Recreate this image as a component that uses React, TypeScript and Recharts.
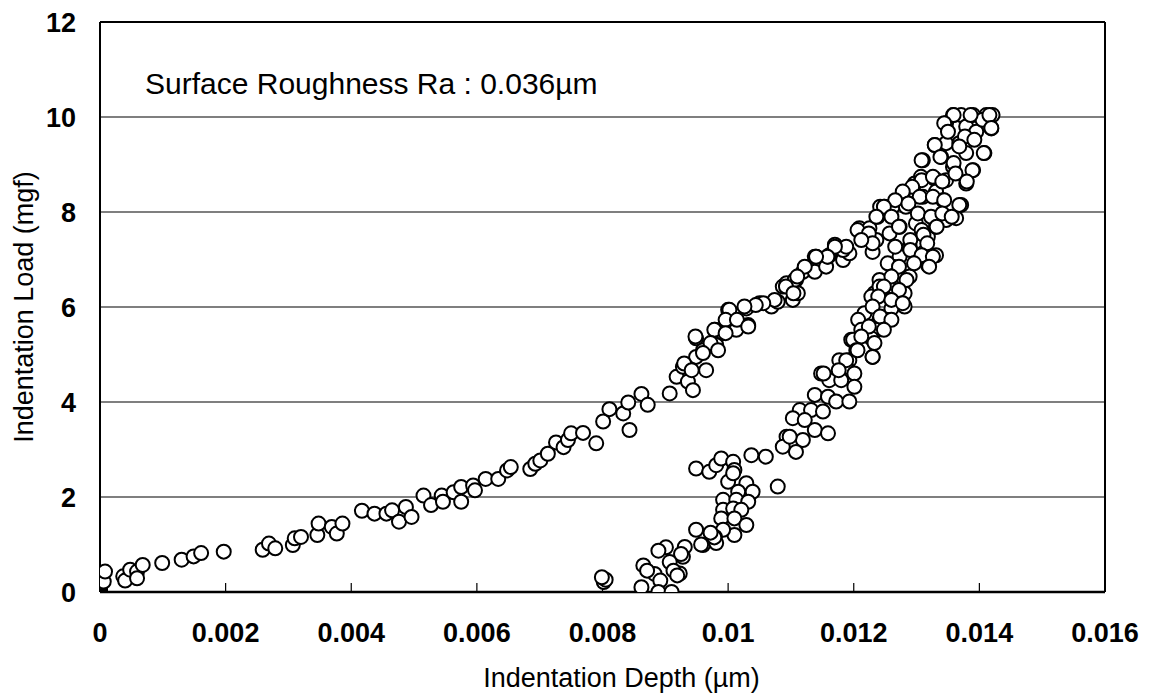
// Indentation load vs depth scatter (loading + unloading branches)

import { ScatterChart, Scatter, XAxis, YAxis, CartesianGrid, ReferenceLine } from 'recharts'

// [depth µm, load mgf]
const loadingCurve: [number, number][] = [
  [0, 0], [0, 0.01], [0, 0.03], [0, 0.05], [0, 0.07], [0, 0.09], [0, 0.11], [0, 0.13], [0, 0.15],
  [0.00001, 0.17], [0.00002, 0.2], [0.00006, 0.22], [0.00008, 0.43],
  [0.00037, 0.33], [0.0004, 0.24], [0.00048, 0.47], [0.00059, 0.43], [0.00059, 0.29], [0.00068, 0.57],
  [0.00099, 0.61], [0.0013, 0.68], [0.00149, 0.75], [0.00161, 0.82], [0.00197, 0.85], [0.00259, 0.89],
  [0.00269, 1.02], [0.00279, 0.92], [0.00307, 0.99], [0.0031, 1.13], [0.0032, 1.16], [0.00346, 1.2],
  [0.00348, 1.44], [0.00369, 1.37], [0.00377, 1.23], [0.00386, 1.44], [0.00417, 1.71], [0.00437, 1.65],
  [0.00456, 1.65], [0.00465, 1.72], [0.00476, 1.48], [0.00487, 1.79], [0.00496, 1.58], [0.00515, 2.03],
  [0.00527, 1.83], [0.00544, 2.03], [0.00546, 1.9], [0.00563, 2.1], [0.00575, 2.21], [0.00575, 1.9],
  [0.00594, 2.24], [0.00597, 2.14], [0.00614, 2.38], [0.00634, 2.38], [0.00648, 2.56], [0.00654, 2.63],
  [0.00685, 2.59], [0.00693, 2.7], [0.00701, 2.77], [0.00713, 2.91], [0.00726, 3.15], [0.00738, 3.05],
  [0.00745, 3.2], [0.0075, 3.34], [0.00769, 3.35], [0.0079, 3.13], [0.00801, 3.59], [0.00811, 3.85],
  [0.00833, 3.76], [0.00841, 3.99], [0.00843, 3.41], [0.00862, 4.17], [0.00872, 3.94], [0.00907, 4.18],
  [0.00918, 4.53], [0.00928, 4.74], [0.00936, 4.43], [0.00944, 4.25], [0.00949, 5.34], [0.00949, 4.95],
  [0.0096, 5.09], [0.00965, 4.67], [0.00979, 5.52], [0.00981, 5.2], [0.00992, 5.45], [0.01, 5.94],
  [0.01002, 5.69], [0.01013, 5.52], [0.01029, 5.97], [0.01032, 5.62], [0.0105, 6.08], [0.01069, 6.01],
  [0.01079, 6.11], [0.01087, 6.43], [0.01103, 6.15], [0.01108, 6.57], [0.01111, 6.29], [0.01119, 6.74],
  [0.01138, 6.74], [0.0114, 7.06], [0.01156, 6.85], [0.01161, 7.09], [0.01183, 6.99], [0.01193, 7.13],
  [0.01093, 6.5], [0.01106, 6.57], [0.01138, 7.06], [0.01159, 7.06], [0.0117, 7.31], [0.01183, 7.2],
  [0.01209, 7.66], [0.01225, 7.66], [0.0123, 7.16], [0.01236, 7.41], [0.01238, 7.9], [0.01249, 8.11],
  [0.01262, 8.11], [0.01283, 8.11], [0.01278, 8.39], [0.01297, 8.6], [0.01307, 8.74], [0.0131, 9.09],
  [0.01329, 9.41], [0.01347, 9.87], [0.01358, 10.04], [0.01371, 10.04],
  [0.01206, 7.62], [0.01224, 7.55], [0.01242, 8.11], [0.0123, 7.34], [0.01212, 7.41], [0.01188, 7.27],
  [0.0117, 7.27], [0.01158, 7.06], [0.0114, 7.06], [0.01122, 6.85], [0.0111, 6.64], [0.01092, 6.43],
  [0.01104, 6.29], [0.01074, 6.15], [0.01056, 6.08], [0.01044, 6.04], [0.01026, 6.01], [0.01002, 5.94],
  [0.00996, 5.73], [0.01014, 5.73], [0.01032, 5.59], [0.00978, 5.52], [0.00996, 5.45], [0.00948, 5.38],
  [0.00972, 5.24], [0.0093, 4.81], [0.00942, 4.67], [0.0096, 5.03], [0.00984, 5.09],
]

const unloadingCurve: [number, number][] = [
  [0.0139, 10.04], [0.01411, 10.04], [0.01421, 10.04], [0.01419, 9.76], [0.01379, 9.8], [0.01395, 9.69],
  [0.01405, 9.94], [0.01347, 9.45], [0.01368, 9.45], [0.01379, 9.24], [0.01408, 9.24], [0.01339, 9.16],
  [0.01358, 8.95], [0.0139, 8.88], [0.01329, 8.7], [0.01347, 8.67], [0.01379, 8.6], [0.0131, 8.32],
  [0.01331, 8.43], [0.01342, 8.25], [0.01371, 8.15], [0.01257, 7.55], [0.01273, 7.69], [0.01299, 7.76],
  [0.01318, 7.48], [0.01331, 7.69], [0.01347, 7.83], [0.01363, 7.87], [0.0131, 7.13], [0.01331, 7.09],
  [0.01318, 6.88], [0.01289, 7.27], [0.01273, 7.06], [0.01262, 6.85], [0.01289, 6.64], [0.01241, 6.57],
  [0.01233, 6.29], [0.01257, 6.43], [0.01278, 6.29], [0.01228, 6.22], [0.01241, 6.43], [0.01262, 6.43],
  [0.01281, 6.29], [0.01281, 6.01], [0.0126, 5.97], [0.01217, 5.87], [0.01241, 5.73], [0.01252, 5.73],
  [0.01207, 5.73], [0.01212, 5.52], [0.01236, 5.52], [0.01196, 5.31], [0.01199, 5.31], [0.01228, 5.34],
  [0.01204, 5.09], [0.0123, 4.95], [0.01177, 4.88], [0.01193, 4.88], [0.01188, 4.74], [0.01201, 4.6],
  [0.01148, 4.6], [0.01161, 4.46], [0.0118, 4.46], [0.01201, 4.32], [0.01138, 4.15], [0.01159, 4.11],
  [0.01172, 4.01], [0.01193, 4.01], [0.01114, 3.83], [0.01132, 3.83], [0.01151, 3.8], [0.01103, 3.66],
  [0.01122, 3.62], [0.01138, 3.41], [0.01159, 3.34], [0.01093, 3.27], [0.01119, 3.2], [0.01108, 2.95],
  [0.01087, 3.06], [0.01098, 3.27], [0.01037, 2.88], [0.0106, 2.85], [0.01079, 2.22],
  [0.01359, 10.04], [0.01386, 10.04], [0.01416, 10.04], [0.01419, 9.77], [0.01344, 9.87], [0.0135, 9.69],
  [0.01377, 9.59], [0.01392, 9.52], [0.01329, 9.41], [0.01368, 9.38], [0.01407, 9.24], [0.01308, 9.09],
  [0.01338, 9.16], [0.01359, 9.03], [0.01389, 8.88], [0.01362, 8.81], [0.01308, 8.67], [0.01326, 8.74],
  [0.01341, 8.64], [0.0138, 8.64], [0.01293, 8.53], [0.01305, 8.32], [0.01326, 8.32], [0.01344, 8.25],
  [0.01368, 8.15], [0.01278, 8.43], [0.01266, 8.25], [0.01248, 8.11], [0.01287, 8.18], [0.01302, 7.97],
  [0.01323, 7.9], [0.01341, 7.97], [0.01356, 7.9], [0.01236, 7.9], [0.0126, 7.9], [0.01272, 7.69],
  [0.01308, 7.62], [0.01332, 7.69], [0.0129, 7.41], [0.01311, 7.52], [0.01317, 7.34], [0.01266, 7.27],
  [0.0129, 7.2], [0.01308, 7.09], [0.01326, 7.06], [0.0132, 6.85], [0.01254, 6.92], [0.01272, 6.85],
  [0.01296, 6.92], [0.0126, 6.64], [0.01284, 6.57], [0.01248, 6.43], [0.01272, 6.36], [0.01239, 6.22],
  [0.0126, 6.15], [0.01278, 6.08], [0.0123, 6.01], [0.01242, 5.8], [0.0126, 5.73], [0.01224, 5.59],
  [0.01248, 5.52], [0.01212, 5.38], [0.01233, 5.24], [0.0123, 4.95], [0.01206, 5.09], [0.01188, 4.88],
  [0.01176, 4.67], [0.01152, 4.6],
  [0.00949, 2.6], [0.0097, 2.53], [0.00981, 2.67], [0.00989, 2.81], [0.01008, 2.74], [0.0101, 2.57],
  [0.01, 2.32], [0.01008, 2.5], [0.01029, 2.29], [0.01039, 2.11], [0.01016, 2.11], [0.00992, 1.94],
  [0.01013, 1.94], [0.01032, 1.9], [0.00992, 1.73], [0.01008, 1.76], [0.01021, 1.73], [0.00989, 1.55],
  [0.0101, 1.55], [0.01029, 1.41], [0.0101, 1.2], [0.00992, 1.31], [0.00949, 1.31], [0.00979, 1.16],
  [0.0096, 0.99], [0.00981, 1.03], [0.00957, 1.0], [0.00978, 1.15], [0.00972, 1.25],
  [0.00931, 0.95], [0.00928, 0.74], [0.00923, 0.39], [0.00925, 0.8], [0.00901, 0.94], [0.00889, 0.87],
  [0.00907, 0.63], [0.00913, 0.45], [0.00919, 0.35], [0.00883, 0.38], [0.00892, 0.24], [0.00889, 0],
  [0.0091, 0], [0.00862, 0.1], [0.00865, 0.56], [0.00871, 0.45], [0.00802, 0.21], [0.00805, 0.26],
  [0.00799, 0.31],
]

const depthTicks = [0, 0.002, 0.004, 0.006, 0.008, 0.01, 0.012, 0.014, 0.016]
const loadTicks = [0, 2, 4, 6, 8, 10, 12]
const annotation = 'Surface Roughness Ra : 0.036µm'

const toPoints = (pts: [number, number][]) => pts.map(([depth, load]) => ({ depth, load }))

const FONT = '"Liberation Sans", Arial, sans-serif'
const tickStyle = { fill: '#000', fontSize: 27, fontWeight: 'bold', fontFamily: FONT }

const OpenCircle = (props: any) => (
  <circle cx={props.cx} cy={props.cy} r={7} fill="#fff" stroke="#000" strokeWidth={2} />
)

export default function App() {
  return (
    <div style={{ position: 'relative', width: 1152, height: 695, background: '#fff' }}>
      <style>{'body{margin:0}'}</style>
      <ScatterChart width={1152} height={695} margin={{ top: 22, right: 47, bottom: 3, left: 19 }}>
        <CartesianGrid vertical={false} stroke="#000" strokeWidth={1.2} />
        <XAxis
          type="number"
          dataKey="depth"
          domain={[0, 0.016]}
          ticks={depthTicks}
          allowDataOverflow
          interval={0}
          height={100}
          tickLine={false}
          tickSize={0}
          tickMargin={31}
          axisLine={{ stroke: '#000', strokeWidth: 2.5 }}
          tick={tickStyle}
          tickFormatter={(v: number) => (v === 0 ? '0' : String(Number(v.toFixed(3))))}
          label={{
            value: 'Indentation Depth (µm)',
            position: 'insideBottom',
            offset: 5,
            dx: 19,
            style: { fill: '#000', fontSize: 27, fontFamily: FONT },
          }}
        />
        <YAxis
          type="number"
          dataKey="load"
          domain={[0, 12]}
          ticks={loadTicks}
          allowDataOverflow
          interval={0}
          width={81}
          tickLine={false}
          tickSize={0}
          tickMargin={24}
          axisLine={{ stroke: '#000', strokeWidth: 2 }}
          tick={tickStyle}
          label={{
            value: 'Indentation Load (mgf)',
            angle: -90,
            position: 'insideLeft',
            offset: 4,
            style: { fill: '#000', fontSize: 27, fontFamily: FONT, textAnchor: 'middle' },
          }}
        />
        {/* frame: top and right borders */}
        <ReferenceLine y={12} stroke="#000" strokeWidth={2} />
        <ReferenceLine x={0.016} stroke="#000" strokeWidth={2} />
        {/* inward tick marks on the depth axis */}
        {depthTicks.slice(1, -1).map(t => (
          <ReferenceLine key={t} segment={[{ x: t, y: 0 }, { x: t, y: 0.19 }]} stroke="#000" strokeWidth={1.2} />
        ))}
        <Scatter data={toPoints(loadingCurve)} shape={OpenCircle} isAnimationActive={false} />
        <Scatter data={toPoints(unloadingCurve)} shape={OpenCircle} isAnimationActive={false} />
      </ScatterChart>
      <div
        style={{
          position: 'absolute',
          left: 145,
          top: 69,
          fontFamily: FONT,
          fontSize: 30,
          lineHeight: '30px',
          color: '#000',
          whiteSpace: 'nowrap',
        }}
      >
        {annotation}
      </div>
    </div>
  )
}
